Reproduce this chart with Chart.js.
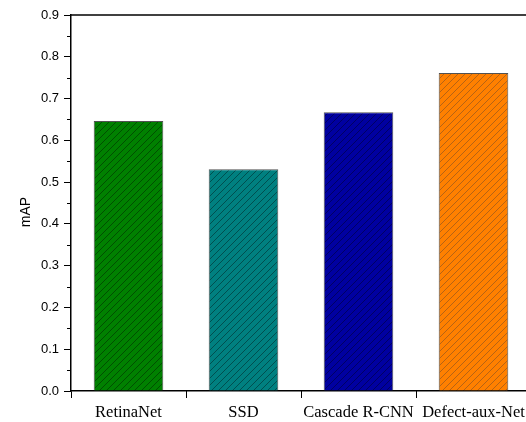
<!DOCTYPE html>
<html>
<head>
<meta charset="utf-8">
<title>mAP</title>
<script src="https://cdn.jsdelivr.net/npm/chart.js@4.4.1/dist/chart.umd.min.js"></script>
<style>
  html, body { margin: 0; padding: 0; background: #fff; overflow: hidden; }
  #wrap { width: 526px; height: 422px; overflow: hidden; }
</style>
</head>
<body>
<div id="wrap"><canvas id="chart" width="531" height="422"></canvas></div>
<script>
let models = ['RetinaNet', 'SSD', 'Cascade R-CNN', 'Defect-aux-Net']
let map_values = [0.646, 0.531, 0.667, 0.761]
let bar_colors = ['#008000', '#008080', '#0000a0', '#ff8000']
let hatch_colors = ['rgba(0,30,0,0.5)', 'rgba(0,30,30,0.5)', 'rgba(0,0,40,0.5)', 'rgba(110,70,40,0.5)']
let y_ticks = [0, 0.1, 0.2, 0.3, 0.4, 0.5, 0.6, 0.7, 0.8, 0.9]
let y_minor_ticks = [0.05, 0.15, 0.25, 0.35, 0.45, 0.55, 0.65, 0.75, 0.85]

// diagonal hatch, one tile per bar colour
function hatch(base, line) {
    let size = 7
    let c = document.createElement('canvas')
    c.width = size
    c.height = size
    let g = c.getContext('2d')
    g.fillStyle = base
    g.fillRect(0, 0, size, size)
    g.fillStyle = line
    for (let i = 0; i < size; i++) {
        g.fillRect(i, size - 1 - i, 1, 1)
    }
    return g.createPattern(c, 'repeat')
}

let patterns = bar_colors.map((col, i) => hatch(col, hatch_colors[i]))

let frame = {
    id: 'frame',
    afterDraw(chart) {
        let ctx = chart.ctx
        let area = chart.chartArea
        let x = chart.scales.x
        let y = chart.scales.y
        ctx.save()
        ctx.strokeStyle = '#000'
        ctx.lineWidth = 1.5
        // top border
        ctx.beginPath()
        ctx.moveTo(area.left, area.top)
        ctx.lineTo(area.right, area.top)
        ctx.stroke()
        // minor ticks
        ctx.lineWidth = 1
        ctx.beginPath()
        for (let v of y_minor_ticks) {
            let py = Math.round(y.getPixelForValue(v)) + 0.5
            ctx.moveTo(area.left - 4, py)
            ctx.lineTo(area.left, py)
        }
        for (let i = 0; i < models.length - 1; i++) {
            let px = Math.round((x.getPixelForTick(i) + x.getPixelForTick(i + 1)) / 2) + 0.5
            ctx.moveTo(px, area.bottom)
            ctx.lineTo(px, area.bottom + 4)
        }
        ctx.stroke()
        // axis title
        ctx.fillStyle = '#000'
        ctx.font = '14px "Liberation Sans", Arial, sans-serif'
        ctx.translate(26, 212)
        ctx.rotate(-Math.PI / 2)
        ctx.textAlign = 'center'
        ctx.textBaseline = 'middle'
        ctx.fillText('mAP', 0, 0)
        ctx.restore()
    }
}

let chart = new Chart(document.getElementById('chart').getContext('2d'), {
    type: 'bar',
    data: {
        labels: models,
        datasets: [{
            label: 'mAP',
            data: map_values,
            backgroundColor: patterns,
            borderColor: 'rgba(50,50,50,0.85)',
            borderWidth: 1,
            borderSkipped: 'bottom',
            categoryPercentage: 1,
            barPercentage: 0.605
        }]
    },
    options: {
        responsive: false,
        animation: false,
        layout: { padding: { top: 15, right: 0, left: 0, bottom: 0 } },
        plugins: {
            legend: { display: false },
            tooltip: { enabled: false }
        },
        scales: {
            x: {
                afterFit: (s) => { s.height = 31 },
                grid: { drawOnChartArea: false, tickLength: 7, color: '#000', tickWidth: 1 },
                border: { color: '#000', width: 1.5 },
                ticks: {
                    color: '#000',
                    padding: 5,
                    maxRotation: 0,
                    autoSkip: false,
                    font: { family: '"Liberation Serif", "Times New Roman", serif', size: 16.5 }
                }
            },
            y: {
                min: 0,
                max: 0.9,
                afterFit: (s) => { s.width = 71 },
                afterBuildTicks: (s) => { s.ticks = y_ticks.map(v => ({ value: v })) },
                grid: { drawOnChartArea: false, tickLength: 7, color: '#000', tickWidth: 1 },
                border: { color: '#000', width: 1.5 },
                ticks: {
                    color: '#000',
                    padding: 5,
                    callback: (v) => v.toFixed(1),
                    font: { family: '"Liberation Sans", Arial, sans-serif', size: 13 }
                }
            }
        }
    },
    plugins: [frame]
})
</script>
</body>
</html>
